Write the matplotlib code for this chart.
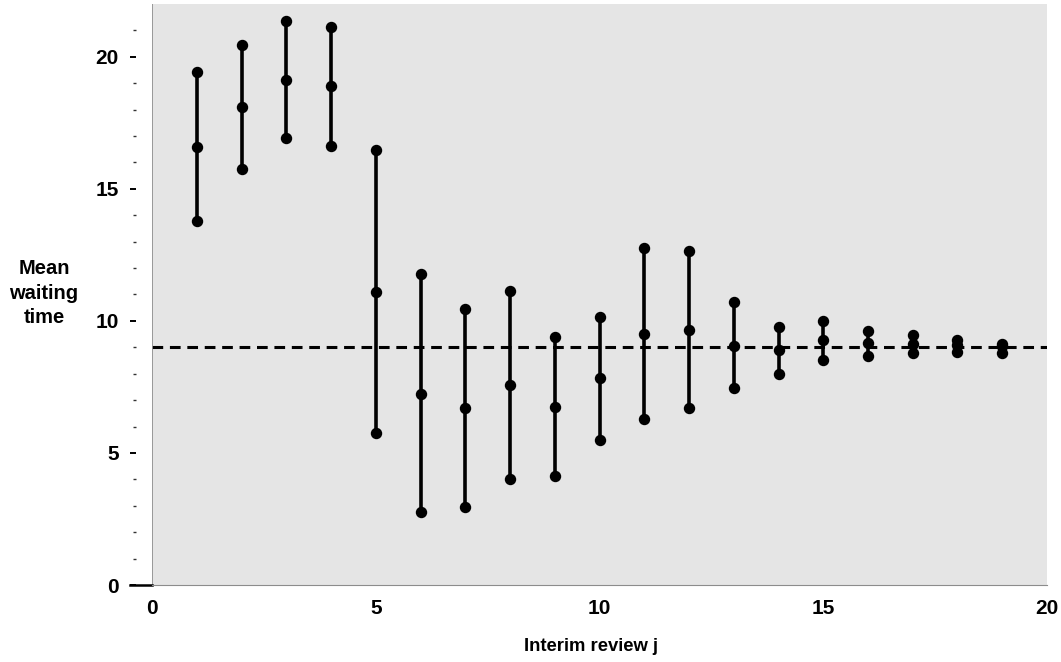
import matplotlib
matplotlib.use("Agg")
import matplotlib.pyplot as plt
from matplotlib.ticker import MultipleLocator

plt.rcParams['font.family'] = ['Liberation Sans', 'DejaVu Sans']
plt.rcParams['font.weight'] = 'bold'

# interim reviews and interval (lower, mean, upper) of the mean waiting time
review = [1, 2, 3, 4, 5, 6, 7, 8, 9, 10, 11, 12, 13, 14, 15, 16, 17, 18, 19]
lower = [13.80, 15.76, 16.93, 16.62, 5.75, 2.75, 2.96, 4.00, 4.11, 5.49,
         6.28, 6.70, 7.46, 8.00, 8.51, 8.66, 8.80, 8.82, 8.80]
mean = [16.59, 18.11, 19.14, 18.89, 11.11, 7.25, 6.71, 7.56, 6.75, 7.82,
        9.52, 9.67, 9.06, 8.89, 9.26, 9.16, 9.14, 9.08, 9.04]
upper = [19.41, 20.45, 21.35, 21.13, 16.46, 11.78, 10.45, 11.12, 9.39, 10.16,
         12.76, 12.65, 10.70, 9.77, 10.00, 9.61, 9.48, 9.29, 9.14]
true_mean = 9.0

fig = plt.figure(figsize=(10.61, 6.62), dpi=100)
ax = fig.add_axes([0.1433, 0.1163, 0.8435, 0.8777])
ax.set_facecolor('#e5e5e5')

for j, lo, m, hi in zip(review, lower, mean, upper):
    ax.plot([j, j], [lo, hi], color='black', lw=2.6, solid_capstyle='butt', zorder=3)
    ax.plot([j, j, j], [lo, m, hi], 'o', color='black', ms=7.2, zorder=4)

ax.axhline(true_mean, color='black', lw=2.2, ls=(0, (3.5, 2.2)), zorder=2)

ax.set_xlim(0, 20)
ax.set_ylim(0, 22)
ax.xaxis.set_major_locator(MultipleLocator(5))
ax.yaxis.set_major_locator(MultipleLocator(5))
ax.set_yticks(range(0, 22), minor=True)

for s in ['top', 'right']:
    ax.spines[s].set_visible(False)
ax.spines['bottom'].set_color('#8c8c8c')
ax.spines['left'].set_visible(False)
ax.axvline(0, color='#8c8c8c', lw=1.2)
ax.spines['left'].set_position(('outward', 11.5))

ax.tick_params(axis='y', which='major', length=4, width=1.4, color='black',
               labelsize=15, pad=8.5)
ax.tick_params(axis='y', which='minor', length=2.2, width=1.0, color='#333333')
ax.tick_params(axis='x', which='major', length=0, labelsize=15, pad=10)

ax.axhline(0, xmin=-0.025, xmax=0, color='black', lw=1.8, clip_on=False)

ax.set_xlabel('Interim review j', fontsize=13.3, fontweight='bold')
ax.xaxis.set_label_coords(0.491, -0.092)
fig.text(0.0415, 0.557, 'Mean\nwaiting\ntime', ha='center', va='center',
         fontsize=14.5, fontweight='bold', linespacing=1.37)

fig.savefig('out.png', dpi=100)
